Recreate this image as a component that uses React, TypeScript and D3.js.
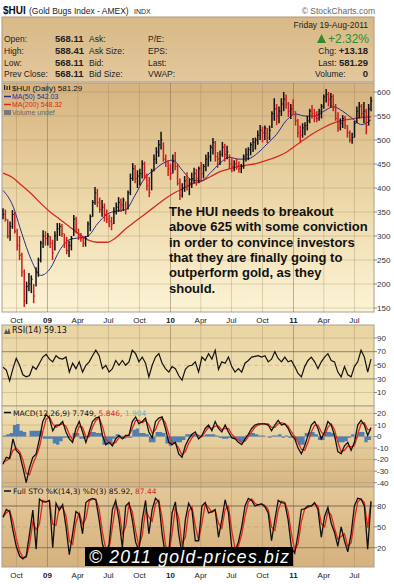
import React, { useEffect, useRef } from 'react';
import * as d3 from 'd3';

// weekly bars, 22-Aug-2008 .. 19-Aug-2011
const priceHigh = [
  358, 355, 335, 330, 354, 350, 315, 300, 265, 230,
  205, 223, 218, 200, 235, 255, 290, 312, 310, 306,
  300, 292, 310, 327, 327, 325, 305, 298, 290, 300,
  344, 340, 315, 306, 298, 300, 330, 345, 375, 402,
  398, 380, 375, 368, 355, 345, 340, 360, 370, 381,
  378, 380, 372, 395, 430, 452, 448, 437, 440, 458,
  455, 430, 423, 440, 470, 485, 500, 517, 495, 470,
  458, 450, 470, 475, 450, 420, 410, 425, 433, 420,
  432, 442, 440, 445, 454, 450, 470, 475, 490, 504,
  498, 475, 478, 496, 492, 488, 470, 462, 458, 462,
  455, 450, 470, 483, 485, 495, 504, 505, 520, 531,
  528, 530, 525, 530, 560, 587, 575, 570, 587, 600,
  595, 579, 575, 585, 560, 544, 530, 535, 537, 550,
  565, 573, 565, 560, 565, 575, 595, 606, 600, 598,
  595, 575, 558, 545, 552, 550, 531, 520, 515, 540,
  570, 579, 575, 579, 565, 575, 590,
];
const priceLow = [
  335, 330, 295, 290, 315, 305, 270, 250, 215, 152,
  158, 185, 181, 160, 195, 215, 245, 275, 280, 280,
  275, 250, 270, 290, 300, 298, 275, 262, 256, 270,
  300, 305, 292, 288, 277, 278, 298, 310, 340, 365,
  360, 348, 340, 330, 327, 318, 312, 325, 345, 350,
  350, 352, 345, 355, 385, 415, 410, 400, 405, 420,
  418, 395, 381, 395, 435, 450, 465, 480, 455, 444,
  425, 417, 430, 437, 405, 375, 380, 392, 395, 385,
  400, 410, 405, 410, 415, 420, 435, 445, 455, 470,
  455, 442, 448, 465, 455, 460, 440, 433, 435, 438,
  432, 431, 440, 455, 458, 468, 475, 480, 490, 500,
  495, 500, 494, 500, 525, 540, 531, 535, 550, 560,
  565, 548, 544, 552, 530, 505, 496, 505, 510, 520,
  535, 545, 537, 537, 540, 545, 565, 578, 570, 568,
  560, 540, 517, 520, 525, 523, 505, 495, 492, 505,
  535, 545, 545, 535, 512, 530, 560,
];
const priceClose = [
  345, 335, 300, 320, 345, 310, 280, 260, 225, 165,
  195, 200, 210, 175, 225, 250, 285, 300, 295, 300,
  285, 265, 300, 315, 320, 305, 285, 270, 280, 295,
  335, 315, 300, 295, 285, 295, 325, 340, 370, 390,
  370, 355, 360, 345, 335, 330, 325, 350, 360, 370,
  365, 375, 355, 390, 420, 440, 420, 425, 430, 450,
  425, 405, 390, 435, 460, 475, 490, 500, 460, 455,
  440, 430, 455, 445, 410, 385, 400, 415, 405, 410,
  420, 430, 420, 440, 430, 445, 460, 465, 485, 495,
  465, 460, 470, 485, 470, 475, 450, 445, 450, 445,
  440, 445, 465, 470, 480, 490, 495, 500, 510, 520,
  515, 525, 505, 520, 555, 565, 550, 560, 575, 585,
  575, 560, 565, 560, 540, 515, 510, 525, 530, 540,
  560, 555, 550, 545, 560, 570, 590, 595, 585, 590,
  570, 545, 525, 535, 545, 530, 515, 500, 505, 535,
  560, 570, 555, 560, 530, 565, 581.29,
];
// moving averages, every 4th week
const ma50 = [
  395, 365, 305, 250, 218, 232, 270, 292, 296, 300,
  325, 345, 352, 355, 385, 420, 437, 452, 458, 437,
  417, 415, 432, 452, 464, 460, 461, 473, 492, 512,
  540, 554, 550, 550, 560, 569, 560, 545, 532, 542.03,
];
const ma200 = [
  431, 422, 405, 388, 368, 350, 335, 320, 305, 292,
  287, 287, 297, 315, 330, 345, 360, 375, 388, 398,
  408, 414, 424, 434, 440, 445, 448, 452, 458, 465,
  474, 488, 502, 515, 526, 535, 541, 544, 547, 548.32,
];
// indicators, evenly spaced over the same period
const rsi = [
  47, 43, 27, 45, 60, 50, 36, 33, 35, 48,
  44, 53, 62, 66, 59, 55, 64, 60, 59, 62,
  40, 53, 45, 55, 40, 50, 55, 64, 72, 64,
  45, 50, 40, 45, 57, 50, 57, 50, 55, 72,
  67, 55, 62, 53, 33, 50, 62, 67, 53, 45,
  40, 48, 45, 35, 28, 44, 49, 50, 55, 40,
  62, 57, 67, 59, 72, 44, 55, 53, 62, 48,
  40, 45, 40, 53, 57, 62, 63, 64, 62, 64,
  55, 59, 70, 60, 55, 62, 55, 57, 48, 38,
  33, 48, 57, 62, 55, 45, 55, 62, 67, 57,
  55, 40, 33, 48, 36, 33, 48, 55, 72, 62,
  40, 59.13,
];
const macdLine = [
  -24, -18, -19, -2, -12, -15, -27, -40, -27, -18,
  -15, -2, 13, 19, 16, 5, 10, 10, 13, 4,
  -2, -5, 7, 13, 4, -5, 4, 13, 16, 17,
  1, -7, -5, -8, -2, 1, -2, 1, 1, 13,
  17, 11, 13, 16, 4, -1, 13, 16, 17, 7,
  -5, -7, -5, -15, -18, -8, -2, 2, 4, -2,
  1, 7, 10, 5, 13, 7, 4, 10, 4, -1,
  -2, -5, -7, -2, 2, 7, 10, 11, 11, 11,
  10, 5, 10, 14, 10, 11, 7, 1, -2, -10,
  -15, -8, 1, 10, 13, 7, -2, 4, 13, 10,
  1, -13, -15, -8, -5, -12, -5, 10, 14, 10,
  1, 7.749,
];
const macdSignal = [
  -22, -21, -19, -12, -10, -13, -20, -32, -33, -24,
  -17, -9, 4, 15, 17, 11, 8, 10, 11, 9,
  2, -3, 1, 9, 8, 0, 0, 8, 14, 16,
  9, -2, -5, -6, -5, -1, -1, 0, 1, 7,
  14, 14, 12, 14, 10, 3, 6, 13, 16, 12,
  2, -5, -6, -10, -16, -13, -6, -1, 2, 1,
  0, 4, 8, 7, 9, 9, 6, 7, 7, 2,
  -1, -3, -5, -4, 0, 4, 8, 10, 11, 11,
  11, 8, 8, 11, 12, 11, 9, 4, 0, -5,
  -11, -12, -5, 4, 10, 10, 4, 1, 8, 11,
  6, -5, -13, -12, -8, -9, -8, 2, 11, 12,
  6, 5.846,
];
const macdHist = [
  1, 2, 3, 10, 11, 5, 4, 0, 5, 5,
  5, 5, -2, -2, -2, -6, -7, -4, -1, -1,
  -1, 3, 3, -2, -2, -1, 4, 4, 3, 3,
  -7, -7, -5, -2, 2, 1, -2, -1, -1, 6,
  7, 3, 3, 2, -5, -5, 4, 4, 3, -6,
  -8, -6, -5, -5, -3, 2, 2, 2, 1, -1,
  1, 2, 2, 2, 1, -1, -2, -2, -1, -2,
  -2, -4, -4, 1, 3, 3, 2, 1, 1, 0,
  -1, 1, 1, 2, -1, 1, -1, -1, -3, -7,
  -7, 3, 4, 4, 2, -3, -3, 4, 4, 3,
  -2, -5, -5, -4, -1, 2, -2, 4, 4, -5,
  -3, 1.904,
];
const stoK = [
  64, 75, 72, 45, 22, 8, 4, 8, 40, 74,
  18, 90, 86, 86, 88, 20, 84, 74, 82, 50,
  10, 40, 72, 68, 40, 85, 89, 91, 89, 60,
  25, 12, 25, 75, 88, 60, 20, 80, 85, 60,
  28, 16, 60, 88, 40, 75, 91, 86, 40, 8,
  12, 70, 86, 40, 10, 60, 84, 74, 30, 30,
  80, 85, 70, 72, 75, 35, 60, 89, 70, 20,
  16, 28, 50, 80, 91, 88, 80, 82, 83, 79,
  70, 30, 60, 88, 85, 84, 60, 20, 12, 40,
  75, 76, 80, 80, 85, 75, 35, 65, 78, 55,
  42, 22, 50, 30, 14, 40, 80, 91, 90, 80,
  18, 85.92,
];
const stoD = [
  64, 70, 74, 58, 34, 15, 6, 6, 24, 57,
  46, 54, 88, 86, 87, 54, 52, 79, 78, 66,
  30, 25, 56, 70, 54, 62, 87, 90, 90, 75,
  42, 18, 18, 50, 82, 74, 40, 50, 83, 72,
  44, 22, 38, 74, 64, 58, 83, 88, 63, 24,
  10, 41, 78, 63, 25, 35, 72, 79, 52, 30,
  55, 83, 78, 71, 74, 55, 48, 75, 80, 45,
  18, 22, 39, 65, 86, 90, 84, 81, 83, 81,
  75, 50, 45, 74, 87, 85, 72, 40, 16, 26,
  58, 76, 78, 80, 83, 80, 55, 50, 72, 67,
  48, 32, 36, 40, 22, 27, 60, 86, 90, 85,
  49, 87.44,
];

const priceTicks = [150, 200, 250, 300, 350, 400, 450, 500, 550, 600];
const rsiTicks = [10, 30, 50, 70, 90];
const macdTicks = [-40, -30, -20, -10, 0, 10, 20];
const stoTicks = [20, 50, 80];
const quarterLabels = ['Oct', '09', 'Apr', 'Jul', 'Oct', '10', 'Apr', 'Jul', 'Oct', '11', 'Apr', 'Jul'];

const quoteRows = [
  ['Open:', '568.11', 'Ask:', 'P/E:'],
  ['High:', '588.41', 'Ask Size:', 'EPS:'],
  ['Low:', '568.11', 'Bid:', 'Last:'],
  ['Prev Close:', '568.11', 'Bid Size:', 'VWAP:'],
];

const note = [
  'The HUI needs to breakout',
  'above 625 with some conviction',
  'in order to convince investors',
  'that they are finally going to',
  'outperform gold, as they',
  'should.',
];

const ARIAL = '"Liberation Sans", Arial, sans-serif';
const DEJA = '"DejaVu Sans", Verdana, sans-serif';

const App = () => {
  const svgRef = useRef(null);

  useEffect(() => {
    const svg = d3.select(svgRef.current);
    svg.selectAll('*').remove();

    const W = 394;
    const L = 2;
    const R = 374;

    const defs = svg.append('defs');
    const grad = (id, stops) => {
      const g = defs.append('linearGradient').attr('id', id).attr('x1', 0).attr('y1', 0).attr('x2', 0).attr('y2', 1);
      stops.forEach(([o, c]) => g.append('stop').attr('offset', o).attr('stop-color', c));
    };
    grad('gHead', [[0, '#d8b987'], [1, '#e3c89c']]);
    grad('gPrice', [[0, '#d6b37f'], [0.55, '#eedaab'], [1, '#fcf4d6']]);
    grad('gRsi', [[0, '#e9d4a2'], [1, '#f3e6b9']]);
    grad('gMacd', [[0, '#f2e2b3'], [1, '#d6b482']]);
    grad('gSto', [[0, '#e4c898'], [1, '#d5b17d']]);

    svg.append('rect').attr('width', W).attr('height', 584).attr('fill', '#fff');

    const start = new Date(2008, 7, 22);
    const end = new Date(2011, 7, 19);
    const x = d3.scaleTime().domain([start, end]).range([3, 371]);
    const xw = d3.scaleLinear().domain([0, priceClose.length - 1]).range([3, 371]);
    const quarters = x.ticks(d3.timeMonth.every(3));

    // ---- header
    svg.append('text').attr('x', 3).attr('y', 14).attr('font-family', ARIAL).attr('font-weight', 'bold')
      .attr('font-size', 10).attr('fill', '#111').text('$HUI');
    svg.append('text').attr('x', 29).attr('y', 14).attr('font-family', ARIAL).attr('font-size', 8.5)
      .attr('fill', '#222').text('(Gold Bugs Index - AMEX)');
    svg.append('text').attr('x', 134).attr('y', 14).attr('font-family', ARIAL).attr('font-size', 7)
      .attr('fill', '#222').text('INDX');
    svg.append('text').attr('x', 375).attr('y', 14).attr('text-anchor', 'end').attr('font-family', ARIAL)
      .attr('font-size', 8.5).attr('fill', '#666').text('© StockCharts.com');

    svg.append('rect').attr('x', L).attr('y', 17).attr('width', R - L).attr('height', 65)
      .attr('fill', 'url(#gHead)').attr('stroke', '#b09a78');

    const rowY = [42, 54, 66, 77];
    quoteRows.forEach((r, i) => {
      const g = svg.append('g').attr('font-family', ARIAL).attr('font-size', 8.5).attr('fill', '#222');
      g.append('text').attr('x', 4).attr('y', rowY[i]).text(r[0]);
      g.append('text').attr('x', 55).attr('y', rowY[i]).attr('font-weight', 'bold').attr('font-size', 9.5).text(r[1]);
      g.append('text').attr('x', 89).attr('y', rowY[i]).text(r[2]);
      g.append('text').attr('x', 148).attr('y', rowY[i]).text(r[3]);
    });
    const rg = svg.append('g').attr('font-family', ARIAL).attr('fill', '#222').attr('text-anchor', 'end');
    rg.append('text').attr('x', 368).attr('y', 28).attr('font-size', 8.5).text('Friday  19-Aug-2011');
    rg.append('text').attr('x', 369).attr('y', 43).attr('font-size', 12).attr('fill', '#2e8b2e').text('+2.32%');
    svg.append('path').attr('d', 'M317,43 L321.5,34 L326,43 Z').attr('fill', '#2e8b2e');
    const chg = rg.append('text').attr('x', 368).attr('y', 54).attr('font-size', 8.5);
    chg.append('tspan').text('Chg:  ');
    chg.append('tspan').attr('font-weight', 'bold').attr('font-size', 9.5).text('+13.18');
    const last = rg.append('text').attr('x', 368).attr('y', 66).attr('font-size', 8.5);
    last.append('tspan').text('Last:  ');
    last.append('tspan').attr('font-weight', 'bold').attr('font-size', 9.5).text('581.29');
    svg.append('text').attr('x', 315).attr('y', 77).attr('font-family', ARIAL).attr('font-size', 8.5)
      .attr('fill', '#222').text('Volume:');
    rg.append('text').attr('x', 368).attr('y', 77).attr('font-size', 9.5).attr('font-weight', 'bold').text('0');

    // ---- panel helper
    const panel = (top, bottom, fill) => {
      svg.append('rect').attr('x', L).attr('y', top).attr('width', R - L).attr('height', bottom - top)
        .attr('fill', fill).attr('stroke', '#a9a090').attr('stroke-width', 1);
      quarters.forEach((d) => {
        const yr = d.getMonth() === 0;
        svg.append('line').attr('x1', x(d)).attr('x2', x(d)).attr('y1', top).attr('y2', bottom)
          .attr('stroke', yr ? 'rgba(110,95,70,0.45)' : 'rgba(140,120,85,0.28)').attr('stroke-width', 1);
      });
    };
    const hGrid = (y, v, style) => {
      svg.append('line').attr('x1', L).attr('x2', R).attr('y1', y(v)).attr('y2', y(v))
        .attr('stroke', style === 'strong' ? 'rgba(100,90,75,0.55)' : 'rgba(140,120,85,0.28)')
        .attr('stroke-width', style === 'strong' ? 1.3 : 1)
        .attr('stroke-dasharray', style === 'dash' ? '4,3' : null);
    };
    const rightAxis = (y, ticks) => {
      ticks.forEach((v) => {
        svg.append('line').attr('x1', R).attr('x2', R + 3).attr('y1', y(v)).attr('y2', y(v)).attr('stroke', '#888');
        svg.append('text').attr('x', R + 3).attr('y', y(v)).attr('dy', '0.35em').attr('font-family', ARIAL)
          .attr('font-size', 8).attr('fill', '#333').text(v);
      });
    };
    const dateLabels = (yy) => {
      quarters.forEach((d, i) => {
        svg.append('text').attr('x', x(d)).attr('y', yy).attr('text-anchor', 'middle')
          .attr('font-family', ARIAL).attr('font-size', 8)
          .attr('font-weight', d.getMonth() === 0 ? 'bold' : 'normal').attr('fill', '#222')
          .text(quarterLabels[i]);
      });
    };

    // ---- price panel
    const yP = d3.scaleLinear().domain([150, 600]).range([308, 92]);
    panel(83, 312, 'url(#gPrice)');
    priceTicks.forEach((v) => hGrid(yP, v, 'light'));
    rightAxis(yP, priceTicks);
    dateLabels(323);

    const maX = (i) => xw(i * 4);
    svg.append('path').datum(ma200)
      .attr('d', d3.line().x((d, i) => maX(i)).y((d) => yP(d)).curve(d3.curveMonotoneX))
      .attr('fill', 'none').attr('stroke', '#d62a1e').attr('stroke-width', 1.3);
    svg.append('path').datum(ma50)
      .attr('d', d3.line().x((d, i) => maX(i)).y((d) => yP(d)).curve(d3.curveMonotoneX))
      .attr('fill', 'none').attr('stroke', '#2b2b8c').attr('stroke-width', 1);

    const bars = svg.append('g');
    priceClose.forEach((c, i) => {
      const col = i > 0 && c < priceClose[i - 1] ? '#d01c1c' : '#111';
      bars.append('line').attr('x1', xw(i)).attr('x2', xw(i)).attr('y1', yP(priceHigh[i])).attr('y2', yP(priceLow[i]))
        .attr('stroke', col).attr('stroke-width', 1.5);
      bars.append('line').attr('x1', xw(i)).attr('x2', xw(i) + 1.4).attr('y1', yP(c)).attr('y2', yP(c))
        .attr('stroke', col).attr('stroke-width', 1);
    });

    // legend
    const lg = svg.append('g').attr('font-family', ARIAL);
    lg.append('rect').attr('x', 4).attr('y', 85).attr('width', 1.2).attr('height', 5).attr('fill', '#222');
    lg.append('rect').attr('x', 6.5).attr('y', 86).attr('width', 1.2).attr('height', 4).attr('fill', '#222');
    lg.append('rect').attr('x', 9).attr('y', 85.5).attr('width', 1.2).attr('height', 4.5).attr('fill', '#222');
    lg.append('text').attr('x', 12).attr('y', 91).attr('font-size', 8).attr('fill', '#111').text('$HUI (Daily) 581.29');
    lg.append('line').attr('x1', 4).attr('x2', 11).attr('y1', 96.5).attr('y2', 96.5).attr('stroke', '#2b2b8c').attr('stroke-width', 1.5);
    lg.append('text').attr('x', 12).attr('y', 99).attr('font-size', 7).attr('fill', '#2b2b8c').text('MA(50) 542.03');
    lg.append('line').attr('x1', 4).attr('x2', 11).attr('y1', 104.5).attr('y2', 104.5).attr('stroke', '#d62a1e').attr('stroke-width', 1.5);
    lg.append('text').attr('x', 12).attr('y', 107).attr('font-size', 7).attr('fill', '#d62a1e').text('MA(200) 548.32');
    lg.append('rect').attr('x', 4).attr('y', 110).attr('width', 7).attr('height', 5).attr('fill', '#777');
    lg.append('text').attr('x', 12).attr('y', 115).attr('font-size', 7).attr('fill', '#666').text('Volume undef');

    // annotation
    const nt = svg.append('text').attr('font-family', ARIAL).attr('font-weight', 'bold').attr('font-size', 13)
      .attr('fill', '#111');
    note.forEach((s, i) => {
      nt.append('tspan').attr('x', 169).attr('y', 216 + i * 15.3).text(s);
    });

    // ---- RSI
    const yR = d3.scaleLinear().domain([10, 90]).range([392.5, 338]);
    panel(325, 406, 'url(#gRsi)');
    hGrid(yR, 90, 'light');
    hGrid(yR, 10, 'light');
    hGrid(yR, 70, 'strong');
    hGrid(yR, 30, 'strong');
    hGrid(yR, 50, 'dash');
    rightAxis(yR, rsiTicks);
    const xi = d3.scaleLinear().domain([0, rsi.length - 1]).range([3, 371]);
    svg.append('path').datum(rsi).attr('d', d3.line().x((d, i) => xi(i)).y((d) => yR(d)))
      .attr('fill', 'none').attr('stroke', '#111').attr('stroke-width', 1.2);
    svg.append('path').attr('d', 'M4,334 l2,-5 l1.5,3 l1.5,-4 l1.5,6 Z').attr('fill', '#555');
    svg.append('text').attr('x', 12).attr('y', 333).attr('font-family', DEJA).attr('font-size', 8)
      .attr('fill', '#111').text('RSI(14) 59.13');

    // ---- MACD
    const yM = d3.scaleLinear().domain([-40, 20]).range([482.7, 413.5]);
    panel(406, 487, 'url(#gMacd)');
    macdTicks.forEach((v) => hGrid(yM, v, 'light'));
    rightAxis(yM, macdTicks);
    const xm = d3.scaleLinear().domain([0, macdLine.length - 1]).range([3, 371]);
    svg.append('path').datum(macdHist)
      .attr('d', d3.area().x((d, i) => xm(i)).y0(yM(0)).y1((d) => yM(d)).curve(d3.curveStepAfter))
      .attr('fill', '#3d78b4').attr('opacity', 0.9);
    svg.append('path').datum(macdSignal).attr('d', d3.line().x((d, i) => xm(i)).y((d) => yM(d)))
      .attr('fill', 'none').attr('stroke', '#e0281c').attr('stroke-width', 1.3);
    svg.append('path').datum(macdLine).attr('d', d3.line().x((d, i) => xm(i)).y((d) => yM(d)))
      .attr('fill', 'none').attr('stroke', '#111').attr('stroke-width', 1.3);
    svg.append('line').attr('x1', 4).attr('x2', 11).attr('y1', 412.5).attr('y2', 412.5).attr('stroke', '#111').attr('stroke-width', 1.5);
    const ml = svg.append('text').attr('x', 13).attr('y', 415.5).attr('font-family', DEJA).attr('font-size', 7.5);
    ml.append('tspan').attr('fill', '#111').text('MACD(12,26,9) 7.749, ');
    ml.append('tspan').attr('fill', '#d62a1e').text('5.846, ');
    ml.append('tspan').attr('fill', '#6fb0c0').text('1.904');

    // ---- Full STO
    const yS = d3.scaleLinear().domain([20, 80]).range([547.7, 506]);
    panel(487, 567, 'url(#gSto)');
    hGrid(yS, 80, 'strong');
    hGrid(yS, 20, 'strong');
    hGrid(yS, 50, 'dash');
    rightAxis(yS, stoTicks);
    const xs = d3.scaleLinear().domain([0, stoK.length - 1]).range([3, 371]);
    svg.append('path').datum(stoD).attr('d', d3.line().x((d, i) => xs(i)).y((d) => yS(d)))
      .attr('fill', 'none').attr('stroke', '#e0281c').attr('stroke-width', 1.3);
    svg.append('path').datum(stoK).attr('d', d3.line().x((d, i) => xs(i)).y((d) => yS(d)))
      .attr('fill', 'none').attr('stroke', '#111').attr('stroke-width', 1.3);
    svg.append('line').attr('x1', 4).attr('x2', 11).attr('y1', 491).attr('y2', 491).attr('stroke', '#111').attr('stroke-width', 1.5);
    const sl = svg.append('text').attr('x', 13).attr('y', 494).attr('font-family', DEJA).attr('font-size', 7.5);
    sl.append('tspan').attr('fill', '#111').text('Full STO %K(14,3) %D(3) 85.92, ');
    sl.append('tspan').attr('fill', '#d62a1e').text('87.44');
    dateLabels(578);

    // watermark
    svg.append('rect').attr('x', 85).attr('y', 547).attr('width', 208).attr('height', 19).attr('fill', '#000');
    svg.append('text').attr('x', 189).attr('y', 562.5).attr('text-anchor', 'middle').attr('font-family', ARIAL)
      .attr('font-style', 'italic').attr('font-size', 17.5).attr('fill', '#fff').attr('textLength', 200)
      .text('© 2011 gold-prices.biz');
  }, []);

  return (
    <svg ref={svgRef} width={394} height={584} style={{ position: 'absolute', left: 0, top: 0 }}></svg>
  );
};

export default App;
